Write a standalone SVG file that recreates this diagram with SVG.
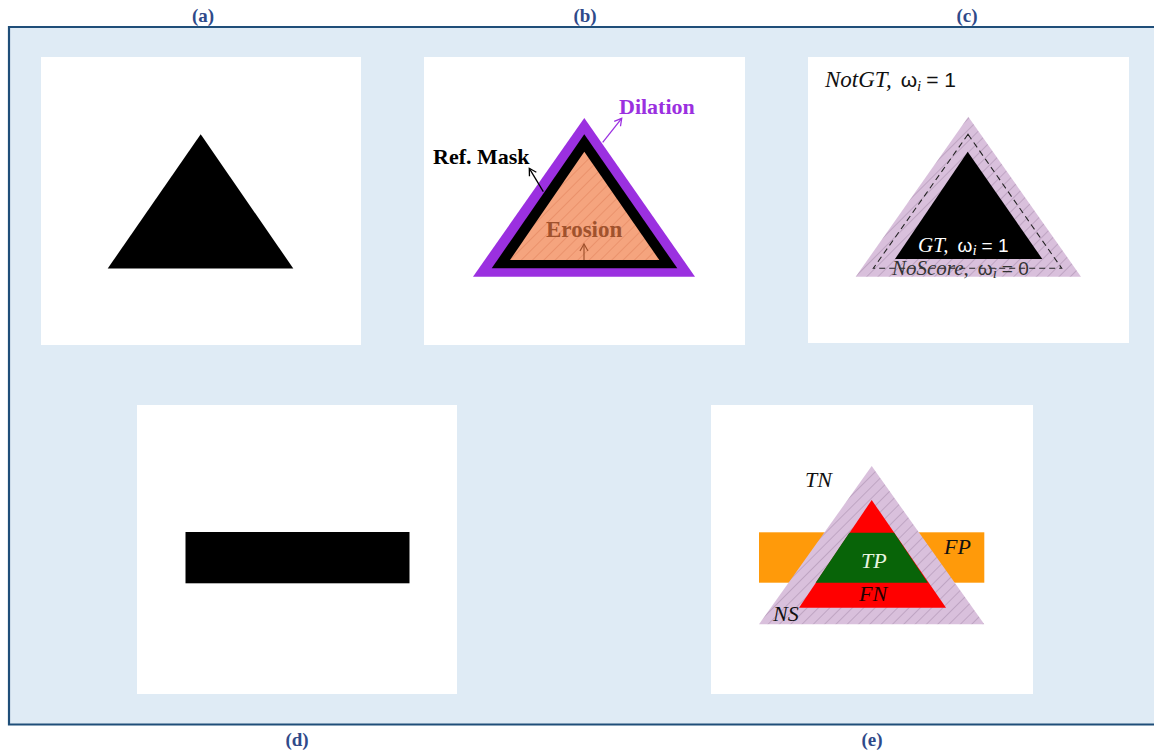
<svg xmlns="http://www.w3.org/2000/svg" width="1154" height="754" viewBox="0 0 1154 754">
<style>
.lbl{font-family:"Liberation Serif",serif;font-weight:bold;font-size:19px;fill:#2F4A8A;text-anchor:middle}
.panel{fill:#FFFFFF}
.it{font-family:"Liberation Serif","DejaVu Serif",serif;font-style:italic;font-size:23px}
.itc{font-family:"Liberation Serif","DejaVu Serif",serif;font-style:italic;font-size:21px}
.up{font-family:"Liberation Sans",sans-serif;font-style:normal;font-size:21px}
.upc{font-family:"Liberation Sans",sans-serif;font-style:normal;font-size:19px}
.sub{font-family:"Liberation Serif",serif;font-style:italic;font-size:15px}
.ite{font-family:"Liberation Serif","DejaVu Serif",serif;font-style:italic;font-size:22px}
.gar{font-family:"Liberation Serif",serif;font-weight:bold}
</style>
<defs>
<pattern id="hatchOrange" patternUnits="userSpaceOnUse" width="8" height="8" patternTransform="rotate(45)">
<rect width="8" height="8" fill="#F5A47E"/>
<line x1="0" y1="0" x2="0" y2="8" stroke="#E0805A" stroke-width="1"/>
</pattern>
<pattern id="hatchLilac" patternUnits="userSpaceOnUse" width="8" height="8" patternTransform="rotate(45)">
<rect width="8" height="8" fill="#D9C0DC"/>
<line x1="0" y1="0" x2="0" y2="8" stroke="#9F86A4" stroke-width="0.9"/>
</pattern>
<marker id="openArrowBlack" markerWidth="10" markerHeight="10" refX="8" refY="5" orient="auto" markerUnits="userSpaceOnUse">
<path d="M1,1 L8,5 L1,9" fill="none" stroke="#000" stroke-width="1.3"/>
</marker>
<marker id="openArrowPurple" markerWidth="10" markerHeight="10" refX="8" refY="5" orient="auto" markerUnits="userSpaceOnUse">
<path d="M1,1 L8,5 L1,9" fill="none" stroke="#9B30E0" stroke-width="1.3"/>
</marker>
<marker id="openArrowBrown" markerWidth="10" markerHeight="10" refX="8" refY="5" orient="auto" markerUnits="userSpaceOnUse">
<path d="M1,1 L8,5 L1,9" fill="none" stroke="#A0522D" stroke-width="1.2"/>
</marker>
</defs>

<rect width="1154" height="754" fill="#FFFFFF"/>
<!-- frame -->
<path d="M1160,27 L9,27 L9,724.5 L1160,724.5" fill="#DFEBF5" stroke="#1F4E79" stroke-width="2.2"/>

<!-- labels -->
<g id="labels">
<text class="lbl" x="203" y="22">(a)</text>
<text class="lbl" x="585" y="22">(b)</text>
<text class="lbl" x="967" y="22">(c)</text>
<text class="lbl" x="297" y="746">(d)</text>
<text class="lbl" x="872" y="746">(e)</text>
</g>

<!-- panel a -->
<g id="panel-a">
<rect class="panel" x="41" y="57" width="320" height="288"/>
<polygon points="200.7,134.3 107.7,268.5 293.3,268.5" fill="#000"/>
</g>

<!-- panel b -->
<g id="panel-b">
<rect class="panel" x="424" y="57" width="321" height="288"/>
<polygon points="584.3,118 473,276.7 695,276.7" fill="#9B30E0"/>
<polygon points="584.3,134.3 491.7,268.3 677.3,268.3" fill="#000"/>
<polygon points="584.3,151.7 510,260 659.3,260" fill="url(#hatchOrange)"/>
<text class="gar" x="619" y="114" font-size="22" fill="#9B30E0">Dilation</text>
<text class="gar" x="433" y="164" font-size="22" fill="#000">Ref. Mask</text>
<text x="546" y="237" font-family="Liberation Serif, serif" font-size="23" font-weight="600" fill="#A0522D">Erosion</text>
</g>

<!-- panel c -->
<g id="panel-c">
<rect class="panel" x="808" y="57" width="321" height="286"/>
<polygon points="968.3,116.7 855.7,276.7 1081,276.7" fill="url(#hatchLilac)"/>
<polygon points="968,134.3 873.3,268.3 1061.7,268.3" fill="none" stroke="#222" stroke-width="1.1" stroke-dasharray="6,4"/>
<polygon points="967.7,151.7 895,259 1042.3,259" fill="#000"/>
<text class="it" x="825" y="87" fill="#111">NotGT,<tspan class="up" dx="9">ω</tspan><tspan class="sub" dy="4">i</tspan><tspan class="up" dy="-4" dx="5">= 1</tspan></text>
<text class="itc" x="918" y="252" fill="#FFF">GT,<tspan class="upc" dx="9">ω</tspan><tspan class="sub" dy="3">i</tspan><tspan class="upc" dy="-3" dx="5">= 1</tspan></text>
<text class="itc" x="892" y="275" fill="#333">NoScore,<tspan class="upc" dx="9">ω</tspan><tspan class="sub" dy="3">i</tspan><tspan class="upc" dy="-3" dx="5">= 0</tspan></text>
</g>

<!-- panel d -->
<g id="panel-d">
<rect class="panel" x="137" y="405" width="320" height="289"/>
<rect x="185.5" y="532" width="224" height="51.3" fill="#000"/>
</g>

<!-- panel e -->
<g id="panel-e">
<rect class="panel" x="711" y="405" width="322" height="289"/>
<rect x="759" y="532.3" width="225.3" height="50.4" fill="#FF9A0A"/>
<polygon points="871.7,466 759,624.3 984.3,624.3" fill="url(#hatchLilac)"/>
<polygon points="871.7,500 799,607.7 946,607.7" fill="#FF0000"/>
<polygon points="849.3,532.7 894.1,532.7 927.8,582.7 815.6,582.7" fill="#086408"/>
<text class="ite" x="805" y="487" fill="#111">TN</text>
<text class="ite" x="944" y="554" fill="#111">FP</text>
<text class="ite" x="861" y="568" fill="#E8F5E0">TP</text>
<text class="ite" x="859" y="601" fill="#220000">FN</text>
<text class="ite" x="773" y="621" fill="#111">NS</text>
</g>

<!-- connectors -->
<g id="connectors">
<line x1="602.7" y1="142.3" x2="621.7" y2="118.3" stroke="#9B30E0" stroke-width="1.3" marker-end="url(#openArrowPurple)"/>
<line x1="543.3" y1="191.7" x2="529.3" y2="168.3" stroke="#000" stroke-width="1.3" marker-end="url(#openArrowBlack)"/>
<line x1="584" y1="260" x2="584" y2="244" stroke="#A0522D" stroke-width="1.2" marker-end="url(#openArrowBrown)"/>
</g>
</svg>
